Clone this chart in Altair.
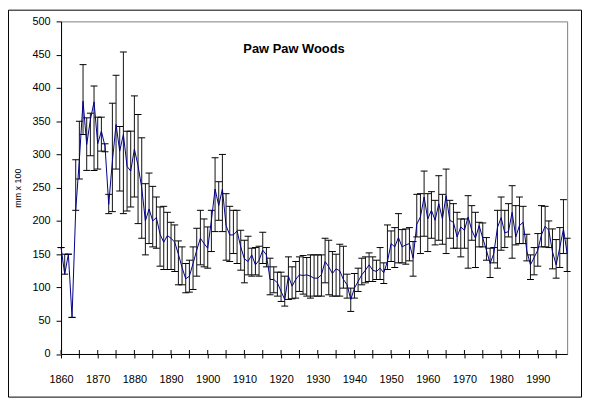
import altair as alt
import pandas as pd

# ---------------- data ----------------
years = list(range(1860, 1999))

values = [
    160, 120, 150, 55, 216, 292, 380, 315, 352, 379,      # 1860s
    316, 335, 312, 225, 290, 345, 305, 330, 282, 275,     # 1870s
    308, 283, 250, 200, 218, 200, 205, 180, 168, 178,     # 1880s
    174, 168, 150, 130, 113, 117, 136, 156, 174, 166,     # 1890s
    159, 201, 248, 223, 248, 193, 179, 179, 185, 161,     # 1900s
    143, 139, 149, 134, 141, 156, 149, 112, 112, 107,     # 1910s
    94, 82, 117, 102, 112, 119, 118, 119, 117, 114,       # 1920s
    114, 119, 139, 131, 121, 128, 125, 112, 104, 82,      # 1930s
    99, 109, 119, 126, 134, 126, 124, 129, 122, 139,      # 1940s
    166, 161, 175, 161, 164, 166, 144, 195, 206, 236,     # 1950s
    203, 216, 201, 226, 203, 238, 201, 198, 176, 191,     # 1960s
    186, 206, 186, 174, 193, 174, 156, 136, 151, 190,     # 1970s
    205, 182, 184, 213, 176, 193, 198, 155, 134, 145,     # 1980s
    156, 179, 192, 186, 154, 134, 160, 188, 151,          # 1990s
]

lower = [
    160, 120, 150, 55, 216, 263, 330, 276, 298, 276,
    278, 305, 304, 211, 214, 278, 245, 211, 215, 221,
    236, 196, 174, 149, 166, 161, 159, 132, 127, 127,
    127, 124, 104, 104, 92, 93, 97, 117, 134, 131,
    129, 154, 184, 201, 184, 141, 139, 151, 136, 126,
    107, 119, 117, 119, 117, 136, 131, 89, 92, 87,
    79, 72, 82, 83, 84, 94, 90, 87, 84, 87,
    87, 87, 107, 89, 87, 87, 87, 99, 84, 64,
    84, 94, 104, 107, 109, 109, 112, 112, 106, 127,
    139, 130, 137, 137, 135, 140, 117, 176, 151, 177,
    154, 174, 164, 171, 165, 151, 174, 159, 159, 146,
    159, 129, 171, 130, 161, 161, 141, 115, 137, 129,
    156, 160, 176, 144, 164, 166, 166, 140, 112, 119,
    132, 161, 161, 160, 128, 114, 130, 151, 124,
]

upper = [
    160, 150, 150, 55, 292, 350, 435, 355, 362, 403,
    356, 356, 316, 240, 377, 419, 342, 454, 335, 335,
    388, 360, 325, 256, 272, 252, 236, 221, 222, 213,
    198, 194, 170, 161, 136, 141, 161, 189, 216, 203,
    191, 216, 295, 259, 300, 241, 222, 216, 216, 186,
    171, 177, 159, 160, 162, 183, 160, 144, 131, 123,
    123, 117, 146, 131, 139, 146, 148, 145, 149, 149,
    149, 149, 174, 171, 154, 150, 165, 162, 120, 99,
    121, 129, 144, 146, 152, 146, 141, 160, 137, 194,
    185, 190, 211, 187, 188, 190, 169, 240, 241, 275,
    241, 244, 231, 268, 240, 278, 231, 226, 213, 203,
    203, 238, 223, 213, 198, 197, 175, 159, 160, 216,
    236, 216, 226, 253, 223, 236, 222, 180, 149, 160,
    181, 223, 222, 200, 188, 172, 190, 232, 174,
]

tick_years = list(range(1860, 1996, 5))
y_ticks = list(range(0, 501, 50))
chart_title = "Paw Paw Woods"
y_title = "mm x 100"

# ---------------- layout ----------------
W, H = 510.5, 335.5
PAD_L, PAD_T, PAD_R, PAD_B = 53.5, 11.8, 15, 44
FONT = "Liberation Sans"

df = pd.DataFrame({"year": years, "value": values, "lo": lower, "hi": upper})
ticks_df = pd.DataFrame({"t": tick_years})

xscale = alt.Scale(domain=[1860, 1998], nice=False, zero=False)
yscale = alt.Scale(domain=[0, 500], nice=False, zero=True)

xaxis = alt.Axis(
    values=tick_years,
    labelExpr="datum.value % 10 == 0 ? format(datum.value, 'd') : ''",
    tickSize=4, labelPadding=16, labelFontSize=11, labelFont=FONT,
    labelColor="black", domainColor="black", tickColor="black",
    grid=False, title=None, labelFlush=False, labelOverlap=False,
)
yaxis = alt.Axis(
    values=y_ticks, tickSize=5, labelPadding=6, labelFontSize=11,
    labelFont=FONT, labelColor="black", domainColor="black",
    tickColor="black", grid=False, title=y_title, titleFont=FONT,
    titleFontSize=9, titleFontWeight="normal", titleColor="black",
    titlePadding=10,
)

X = alt.X("year:Q", scale=xscale, axis=xaxis)
Y = alt.Y("lo:Q", scale=yscale, axis=yaxis)

bars = alt.Chart(df).mark_rule(color="#111111", strokeWidth=1).encode(
    x=X, y=Y, y2="hi:Q"
)
cap_lo = alt.Chart(df).mark_tick(
    orient="horizontal", color="black", size=7, thickness=1, opacity=1
).encode(x=X, y=alt.Y("lo:Q", scale=yscale, axis=yaxis))
cap_hi = alt.Chart(df).mark_tick(
    orient="horizontal", color="black", size=7, thickness=1, opacity=1
).encode(x=X, y=alt.Y("hi:Q", scale=yscale, axis=yaxis))

line = alt.Chart(df).mark_line(color="#000088", strokeWidth=1).encode(
    x=X, y=alt.Y("value:Q", scale=yscale, axis=yaxis)
)

inner_ticks = alt.Chart(ticks_df).mark_rule(color="black", strokeWidth=1).encode(
    x=alt.X("t:Q", scale=xscale, axis=xaxis),
    y=alt.value(H - 4), y2=alt.value(H),
)

title_layer = alt.Chart(alt.Data(values=[{"a": 1}])).mark_text(
    text=chart_title, font=FONT, fontSize=13, fontWeight="bold", color="black"
).encode(x=alt.value(235), y=alt.value(28))

frame = alt.Chart(alt.Data(values=[{"a": 1}])).mark_rect(
    fillOpacity=0, stroke="black", strokeWidth=1
).encode(
    x=alt.value(-PAD_L + 0.5), x2=alt.value(W + PAD_R - 0.5),
    y=alt.value(-PAD_T + 0.5), y2=alt.value(H + PAD_B - 0.5),
)

chart = alt.layer(
    bars, cap_lo, cap_hi, line, inner_ticks, title_layer, frame
).properties(
    width=W, height=H,
    autosize=alt.AutoSizeParams(type="none"),
    padding={"left": PAD_L, "top": PAD_T, "right": PAD_R, "bottom": PAD_B},
    background="white",
).configure_view(
    stroke="#808080", strokeWidth=1
)

chart.save("out.html", embed_options={"renderer": "svg", "actions": False})
